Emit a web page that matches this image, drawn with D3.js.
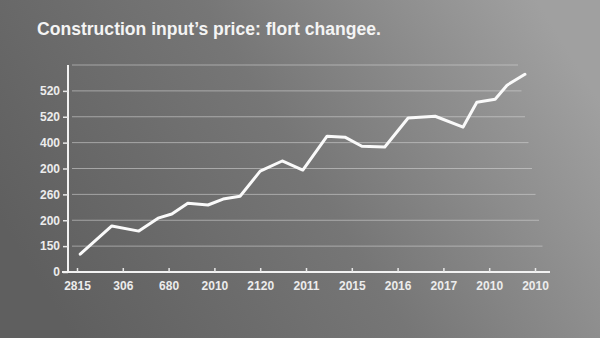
<!DOCTYPE html>
<html>
<head>
<meta charset="utf-8">
<script src="https://cdn.jsdelivr.net/npm/d3@7"></script>
<style>
  html, body { margin: 0; padding: 0; background: #6e6e6e; }
  svg { display: block; }
</style>
</head>
<body>
<svg id="chart" width="600" height="338"></svg>
<script>
// Axis labels as printed on the chart
const xTickLabels = ["2815", "306", "680", "2010", "2120", "2011", "2015", "2016", "2017", "2010", "2010"];
const yTickLabels = ["0", "150", "200", "260", "200", "400", "520", "520"];

// Series: position along the period axis (in tick steps) and level (in grid steps)
const periods = [0.07, 0.76, 1.35, 1.77, 2.07, 2.42, 2.86, 3.19, 3.56, 4.0, 4.48, 4.93,
                 5.46, 5.85, 6.22, 6.72, 7.23, 7.82, 8.43, 8.73, 9.13, 9.39, 9.78];
const levels  = [0.69, 1.78, 1.58, 2.08, 2.24, 2.66, 2.59, 2.82, 2.93, 3.90, 4.29, 3.94,
                 5.25, 5.21, 4.86, 4.83, 5.95, 6.02, 5.60, 6.56, 6.68, 7.22, 7.64];

const title = "Construction input\u2019s price: flort changee.";

const W = 600, H = 338;
const svg = d3.select("#chart");

// Background wash, darker on the left and lighter toward the upper right
const defs = svg.append("defs");
const bg = defs.append("linearGradient").attr("id", "bg")
  .attr("x1", "0").attr("y1", "0.65").attr("x2", "1").attr("y2", "0.3");
bg.append("stop").attr("offset", "0").attr("stop-color", "#5f5f5f");
bg.append("stop").attr("offset", "0.5").attr("stop-color", "#767676");
bg.append("stop").attr("offset", "1").attr("stop-color", "#a0a0a0");
svg.append("rect").attr("width", W).attr("height", H).attr("fill", "url(#bg)");

const x = d3.scaleLinear().domain([0, 10]).range([77, 535]);
const y = d3.scaleLinear().domain([0, 8]).range([272, 65]);

// Title
svg.append("text")
  .attr("x", 37).attr("y", 35)
  .attr("font-family", "'Liberation Sans', Arial, sans-serif")
  .attr("font-weight", "bold")
  .attr("font-size", 17.5)
  .attr("fill", "#f4f4f4")
  .attr("textLength", 344)
  .attr("lengthAdjust", "spacingAndGlyphs")
  .text(title);

// Horizontal gridlines
const gridLevels = d3.range(1, 9);
svg.append("g").selectAll("line").data(gridLevels).join("line")
  .attr("x1", 72).attr("x2", d => 518 + (8 - d) * 3.5)
  .attr("y1", d => y(d)).attr("y2", d => y(d))
  .attr("stroke", "#d8d8d8").attr("stroke-opacity", 0.55).attr("stroke-width", 1);

// Y axis
const yAxis = d3.axisLeft(y)
  .tickValues(d3.range(0, yTickLabels.length))
  .tickFormat(i => yTickLabels[i])
  .tickSize(5).tickPadding(3);
const gy = svg.append("g").attr("transform", "translate(68,0)").call(yAxis);
gy.select(".domain").attr("d", `M0,${y(0)}V${y(8)}`);

// X axis
const xAxis = d3.axisBottom(x)
  .tickValues(d3.range(0, xTickLabels.length))
  .tickFormat(i => xTickLabels[i])
  .tickSize(4).tickPadding(3);
const gx = svg.append("g").attr("transform", `translate(0,${y(0)})`).call(xAxis);
gx.select(".domain").attr("d", "M62,0H550");

[gx, gy].forEach(g => {
  g.select(".domain").attr("stroke", "#f2f2f2").attr("stroke-width", 2).attr("fill", "none");
  g.selectAll(".tick line").attr("stroke", "#e8e8e8").attr("stroke-width", 1.5);
  g.selectAll(".tick text")
    .attr("fill", "#ececec")
    .attr("font-family", "'Liberation Sans', Arial, sans-serif")
    .attr("font-weight", "bold")
    .attr("font-size", 12);
});
gx.selectAll(".tick line").attr("transform", "translate(0,-4)");
gx.selectAll(".tick text").attr("dy", "0.95em");

// Price line
const pts = periods.map((p, i) => [p, levels[i]]);
const line = d3.line().x(d => x(d[0])).y(d => y(d[1]));
svg.append("path")
  .datum(pts)
  .attr("d", line)
  .attr("fill", "none")
  .attr("stroke", "#fafafa")
  .attr("stroke-width", 3)
  .attr("stroke-linejoin", "round")
  .attr("stroke-linecap", "round");
</script>
</body>
</html>
